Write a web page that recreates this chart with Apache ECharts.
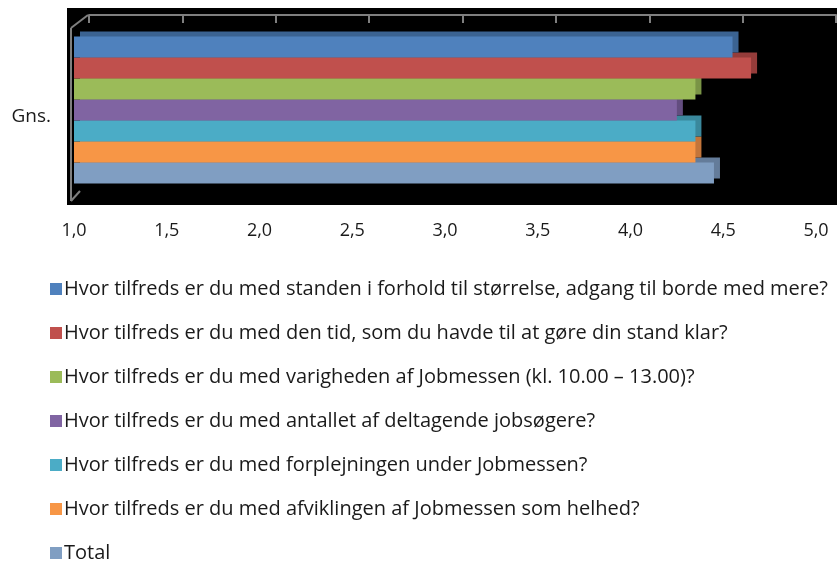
<!DOCTYPE html>
<html><head><meta charset="utf-8">
<script src="https://cdn.jsdelivr.net/npm/echarts@6/dist/echarts.min.js"></script>
<style>html,body{margin:0;padding:0;background:#fff}#c{width:837px;height:565px}</style>
</head><body><div id="c"></div>
<script>
const categories = ['Gns.'];
const seriesNames = [
  'Hvor tilfreds er du med standen i forhold til størrelse, adgang til borde med mere?',
  'Hvor tilfreds er du med den tid, som du havde til at gøre din stand klar?',
  'Hvor tilfreds er du med varigheden af Jobmessen (kl. 10.00 – 13.00)?',
  'Hvor tilfreds er du med antallet af deltagende jobsøgere?',
  'Hvor tilfreds er du med forplejningen under Jobmessen?',
  'Hvor tilfreds er du med afviklingen af Jobmessen som helhed?',
  'Total'
];
const values = [4.55, 4.65, 4.35, 4.25, 4.35, 4.35, 4.45];
const colors = ['#4F81BD','#C0504D','#9BBB59','#8064A2','#4BACC6','#F79646','#809EC2'];
const darkColors = ['#3B6392','#953C3A','#7A9446','#634D7F','#3A889C','#C3753A','#647C9A'];
const FONT = 'Open Sans';

const chart = echarts.init(document.getElementById('c'));
const series = seriesNames.map((n, i) => ({
  name: n, type: 'bar', xAxisIndex: 0, yAxisIndex: 0,
  data: [values[i]], barGap: '0%', barCategoryGap: '8%',
  z: 10 + (7 - i),
  itemStyle: { color: colors[i], shadowColor: darkColors[i], shadowOffsetX: 6, shadowOffsetY: -5, shadowBlur: 0 },
  emphasis: { disabled: true }
}));
chart.setOption({
  animation: false,
  backgroundColor: '#fff',
  textStyle: { fontFamily: FONT },
  graphic: [
    { type: 'rect', z: -10, shape: { x: 67, y: 8, width: 770, height: 197 }, style: { fill: '#000' } },
    { type: 'line', z: 1, shape: { x1: 71, y1: 28, x2: 88, y2: 15 }, style: { stroke: '#7f7f7f', lineWidth: 2 } },
    { type: 'line', z: 1, shape: { x1: 71, y1: 28, x2: 71, y2: 201 }, style: { stroke: '#7f7f7f', lineWidth: 2 } },
    { type: 'line', z: 1, shape: { x1: 71, y1: 201, x2: 80, y2: 191 }, style: { stroke: '#7f7f7f', lineWidth: 2 } }
  ],
  grid: [
    { left: 74, right: 21, top: 30, height: 160 },
    { left: 89, right: 1, top: 15, height: 170 }
  ],
  xAxis: [
    { type: 'value', gridIndex: 0, min: 1, max: 5, interval: 0.5,
      axisLine: { show: false }, axisTick: { show: false }, splitLine: { show: false },
      axisLabel: { margin: 32, fontSize: 18, color: '#1a1a1a', fontFamily: FONT,
        formatter: v => v.toFixed(1).replace('.', ',') } },
    { type: 'value', gridIndex: 1, position: 'top', min: 1, max: 5, interval: 0.5,
      axisLine: { show: true, lineStyle: { color: '#7f7f7f', width: 2 } },
      axisTick: { show: true, inside: true, length: 8, lineStyle: { color: '#7f7f7f', width: 2 } },
      splitLine: { show: false }, axisLabel: { show: false } }
  ],
  yAxis: [
    { type: 'category', gridIndex: 0, data: categories,
      axisLine: { show: false }, axisTick: { show: false },
      axisLabel: { margin: 23, fontSize: 19, color: '#1a1a1a', fontFamily: FONT, verticalAlign: 'top', lineHeight: 14 } },
    { type: 'category', gridIndex: 1, data: categories, show: false }
  ],
  legend: {
    orient: 'vertical', left: 50, top: 279, padding: 0, itemWidth: 12, itemHeight: 12, itemGap: 24,
    icon: 'rect', data: seriesNames,
    textStyle: { fontSize: 20, color: '#1a1a1a', fontFamily: FONT, padding: [0,0,0,-3] }
  },
  series: series
});
</script></body></html>
